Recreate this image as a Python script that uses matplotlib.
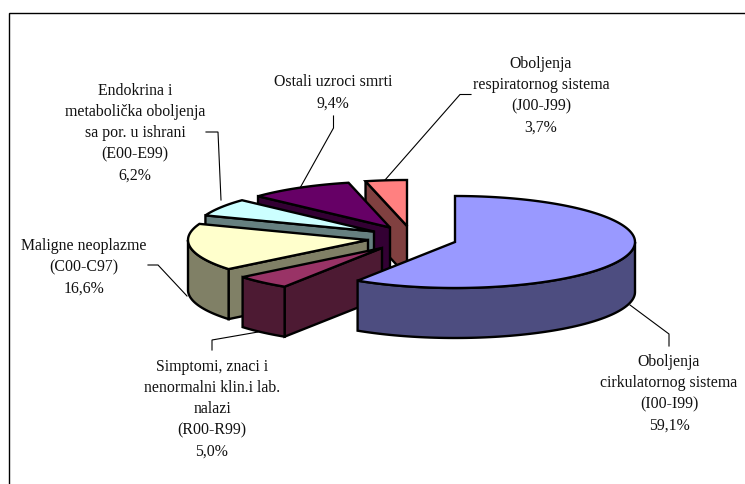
import numpy as np
import matplotlib
matplotlib.use("Agg")
import matplotlib.pyplot as plt
from matplotlib.patches import Polygon

# data (clockwise from 12 o'clock)
names = ["Oboljenja\ncirkulatornog sistema\n(I00-I99)",
         "Simptomi, znaci i\nnenormalni klin.i lab.\nnalazi\n(R00-R99)",
         "Maligne neoplazme\n(C00-C97)",
         "Endokrina i\nmetabolička oboljenja\nsa por. u ishrani\n(E00-E99)",
         "Ostali uzroci smrti",
         "Oboljenja\nrespiratornog sistema\n(J00-J99)"]
values = [59.1, 5.0, 16.6, 6.2, 9.4, 3.7]
top_colors = ["#9999FF", "#993366", "#FFFFCC", "#CCFFFF", "#660066", "#FF8080"]
side_colors = ["#4D4D80", "#4D1A33", "#808066", "#668080", "#330033", "#804040"]

# layout (pixels)
centers = [(455, 242), (382, 248), (368, 240), (374, 231.5), (390, 227.5), (407, 226)]
RX, RY, DEPTH = 180, 46, 50
label_pos = [(669, 360), (212, 365), (84, 244), (135, 89), (333, 80), (541, 62)]
leaders = [[(669, 346), (669, 334), (630, 305)],
           [(212, 350), (212, 340), (258, 332)],
           [(148, 265), (158, 265), (187, 296)],
           [(206, 132), (218, 132), (221, 200)],
           [(333.5, 116), (333.5, 128), (300, 188)],
           [(471, 94.5), (460, 94.5), (385, 180)]]
LINE_PX = 21.2

plt.rcParams["font.family"] = ["Liberation Serif", "DejaVu Serif"]
fig = plt.figure(figsize=(7.45, 4.84), dpi=100)
ax = fig.add_axes([0, 0, 1, 1])
ax.set_xlim(0, 745)
ax.set_ylim(484, 0)
ax.axis("off")

ax.plot([8.5, 8.5, 745], [484, 12.5, 12.5], color="black", lw=1.0, solid_joinstyle="miter")

edges = np.cumsum([0] + values) / sum(values) * 2 * np.pi


def arc(c, a0, a1, dy=0.0):
    t = np.linspace(a0, a1, max(int((a1 - a0) * 40), 2))
    return np.column_stack([c[0] + RX * np.sin(t), c[1] - RY * np.cos(t) + dy])


kw = dict(edgecolor="black", lw=1.7, joinstyle="miter")
draw_order = [5, 4, 3, 2, 1, 0]
for z, i in enumerate(draw_order):
    c = np.array(centers[i], float)
    a0, a1 = edges[i], edges[i + 1]
    zo = 3 + z
    # radial wall on the starting edge, visible for slices in the left half
    if a0 >= np.pi:
        p = arc(c, a0, a0)[0]
        ax.add_patch(Polygon([p, c, c + [0, DEPTH], p + [0, DEPTH]],
                             facecolor=side_colors[i], zorder=zo, **kw))
    # outer wall (front half of the ellipse only)
    lo, hi = max(a0, np.pi / 2), min(a1, 3 * np.pi / 2)
    if lo < hi:
        top = arc(c, lo, hi)
        bottom = arc(c, lo, hi, DEPTH)
        ax.add_patch(Polygon(np.vstack([top, bottom[::-1]]),
                             facecolor=side_colors[i], zorder=zo, **kw))
    # top surface
    ax.add_patch(Polygon(np.vstack([[c], arc(c, a0, a1)]),
                         facecolor=top_colors[i], zorder=zo, **kw))

for i, name in enumerate(names):
    text = name + "\n" + f"{values[i]:.1f}%".replace(".", ",")
    x, y = label_pos[i]
    for k, line in enumerate(text.split("\n")):
        ax.text(x, y + k * LINE_PX, line, ha="center", va="center_baseline",
                fontsize=11.4, color="#111111", zorder=20)
    xs, ys = zip(*leaders[i])
    ax.plot(xs, ys, color="black", lw=0.8, zorder=2, solid_joinstyle="miter")

fig.savefig("out.png", dpi=100, facecolor="white")
